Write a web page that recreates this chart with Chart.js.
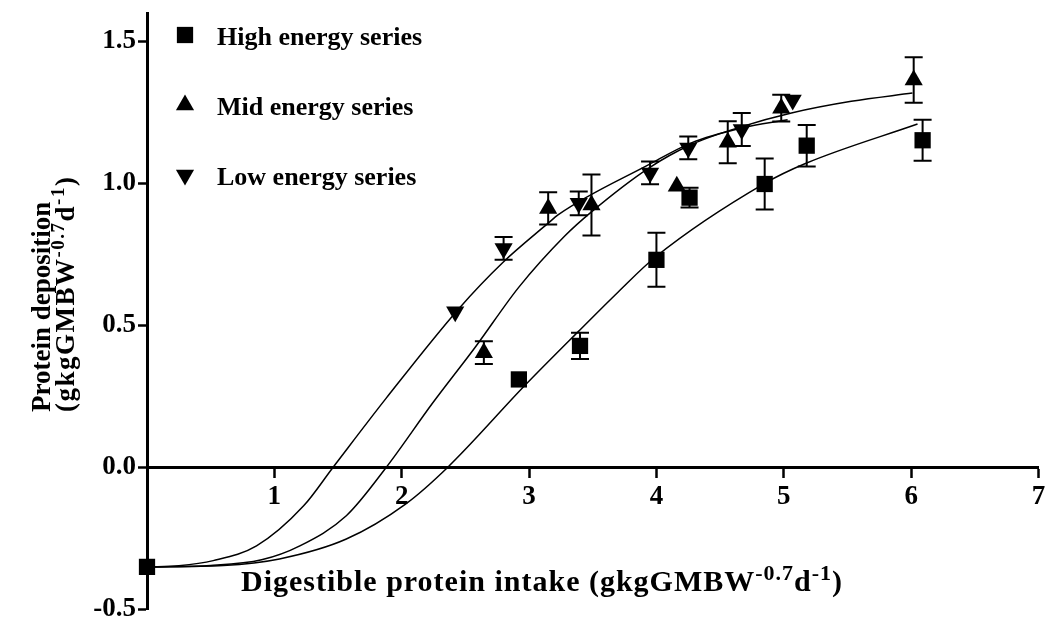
<!DOCTYPE html>
<html>
<head>
<meta charset="utf-8">
<script src="https://cdn.jsdelivr.net/npm/chart.js@4.4.1/dist/chart.umd.min.js"></script>
<style>
  body { margin: 0; background: #fff; }
  canvas { display: block; }
</style>
</head>
<body>
<canvas id="chart" width="1050" height="621"></canvas>
<script>
// 図から読み取った値
const seriesLabels = ['High energy series', 'Mid energy series', 'Low energy series'];

const highX = [0, 2.92, 3.40, 4.00, 4.26, 4.85, 5.18, 6.09];
const highY = [-0.35, 0.31, 0.428, 0.731, 0.95, 0.998, 1.133, 1.152];
const highErr = [0, 0, 0.046, 0.095, 0.035, 0.09, 0.073, 0.072];

const midX = [2.645, 3.15, 3.49, 4.16, 4.56, 4.98, 6.02];
const midY = [0.404, 0.912, 0.924, 0.99, 1.145, 1.265, 1.364];
const midErr = [0.04, 0.057, 0.107, 0, 0.074, 0.047, 0.08];

const lowX = [2.42, 2.80, 3.39, 3.95, 4.25, 4.67, 5.07];
const lowY = [0.548, 0.771, 0.93, 1.037, 1.125, 1.19, 1.294];
const lowErr = [0, 0.04, 0.042, 0.04, 0.04, 0.058, 0];

// フィット曲線（図の線上で読んだ点）
const highCurveX = [0, 0.6, 1.04, 1.565, 2.03, 2.36, 2.97, 3.39, 3.70, 3.99, 4.85, 5.17, 6.05];
const highCurveY = [-0.35, -0.345, -0.322, -0.252, -0.129, 0, 0.29, 0.48, 0.618, 0.74, 1.0, 1.07, 1.209];
const midCurveX = [0, 0.5, 0.9, 1.2, 1.565, 1.878, 2.24, 2.58, 2.92, 3.28, 3.49, 3.94, 4.27, 4.67, 5.06, 5.53, 6.01];
const midCurveY = [-0.35, -0.345, -0.325, -0.276, -0.17, 0, 0.225, 0.425, 0.635, 0.815, 0.9, 1.054, 1.136, 1.20, 1.248, 1.289, 1.318];
const lowCurveX = [0, 0.25, 0.52, 0.86, 1.23, 1.46, 1.88, 2.45, 2.79, 3.15, 3.23, 3.94, 4.27, 4.67, 5.03];
const lowCurveY = [-0.35, -0.346, -0.328, -0.276, -0.135, 0, 0.245, 0.56, 0.72, 0.86, 0.89, 1.066, 1.142, 1.195, 1.224];

const xTicks = [1, 2, 3, 4, 5, 6, 7];
const yTicks = [-0.5, 0, 0.5, 1.0, 1.5];

const FONT = '"Liberation Serif", "Times New Roman", serif';

function toPoints(xs, ys) {
    return xs.map((x, i) => ({ x: x, y: ys[i] }));
}

function markerSet(label, xs, ys, errs, style, rotation) {
    return {
        label: label,
        data: toPoints(xs, ys),
        errors: errs,
        pointStyle: style,
        pointRotation: rotation,
        pointRadius: style === 'rect' ? 11.5 : 10.5,
        pointHoverRadius: style === 'rect' ? 11.5 : 10.5,
        backgroundColor: '#000',
        borderColor: '#000',
        borderWidth: 0,
        showLine: false,
        clip: false,
        order: 0
    };
}

function curveSet(xs, ys) {
    return {
        label: '',
        data: toPoints(xs, ys),
        showLine: true,
        pointRadius: 0,
        borderColor: '#000',
        borderWidth: 1.5,
        cubicInterpolationMode: 'monotone',
        fill: false,
        isCurve: true,
        order: 1
    };
}

// 上付き文字を含むテキストを描く
function drawRich(ctx, parts, x, y, size, spacing) {
    ctx.letterSpacing = (spacing || 0) + 'px';
    let cx = x;
    parts.forEach(p => {
        const s = p.sup ? Math.round(size * 0.72) : size;
        ctx.font = 'bold ' + s + 'px ' + FONT;
        ctx.fillText(p.t, cx, p.sup ? y - size * 0.36 : y);
        cx += ctx.measureText(p.t).width;
    });
    ctx.letterSpacing = '0px';
}

const unitParts = [
    { t: '(gkgGMBW' }, { t: '-0.7', sup: true }, { t: 'd' }, { t: '-1', sup: true }, { t: ')' }
];

const titlesPlugin = {
    id: 'titles',
    afterDraw(chart) {
        const ctx = chart.ctx;
        ctx.save();
        ctx.fillStyle = '#000';
        ctx.textBaseline = 'alphabetic';
        ctx.textAlign = 'left';
        // x軸タイトル
        drawRich(ctx, [{ t: 'Digestible protein intake ' }].concat(unitParts), 241, 591, 30, 1);
        // y軸タイトル（2行、回転）
        ctx.translate(50, 412);
        ctx.rotate(-Math.PI / 2);
        drawRich(ctx, [{ t: 'Protein deposition' }], 0, 0, 27, 0);
        drawRich(ctx, unitParts, 0, 24, 27, 1.5);
        ctx.restore();
    }
};

const legendPlugin = {
    id: 'customLegend',
    afterDraw(chart) {
        const ctx = chart.ctx;
        ctx.save();
        const sets = chart.data.datasets.filter(d => !d.isCurve);
        sets.forEach((ds, i) => {
            const cy = 35 + i * 70;
            ctx.fillStyle = '#000';
            ctx.strokeStyle = '#000';
            Chart.helpers.drawPoint(ctx, {
                pointStyle: ds.pointStyle,
                rotation: ds.pointRotation,
                radius: ds.pointRadius,
                borderWidth: 0
            }, 185, cy);
            ctx.font = 'bold 26px ' + FONT;
            ctx.textBaseline = 'alphabetic';
            ctx.fillText(ds.label, 217, cy + 10);
        });
        ctx.restore();
    }
};

const errorBarPlugin = {
    id: 'errorBars',
    beforeDatasetsDraw(chart) {
        const { ctx, scales: { x, y } } = chart;
        ctx.save();
        ctx.strokeStyle = '#000';
        ctx.lineWidth = 2;
        chart.data.datasets.forEach(ds => {
            if (!ds.errors) return;
            ds.data.forEach((p, i) => {
                const e = ds.errors[i];
                if (!e) return;
                const px = x.getPixelForValue(p.x);
                const top = y.getPixelForValue(p.y + e);
                const bot = y.getPixelForValue(p.y - e);
                ctx.beginPath();
                ctx.moveTo(px, top); ctx.lineTo(px, bot);
                ctx.moveTo(px - 9, top); ctx.lineTo(px + 9, top);
                ctx.moveTo(px - 9, bot); ctx.lineTo(px + 9, bot);
                ctx.stroke();
            });
        });
        ctx.restore();
    }
};

const tickFont = { family: FONT, size: 27, weight: 'bold' };

new Chart(document.getElementById('chart'), {
    type: 'scatter',
    data: {
        datasets: [
            markerSet(seriesLabels[0], highX, highY, highErr, 'rect', 0),
            markerSet(seriesLabels[1], midX, midY, midErr, 'triangle', 0),
            markerSet(seriesLabels[2], lowX, lowY, lowErr, 'triangle', 180),
            curveSet(highCurveX, highCurveY),
            curveSet(midCurveX, midCurveY),
            curveSet(lowCurveX, lowCurveY)
        ]
    },
    options: {
        responsive: false,
        animation: false,
        devicePixelRatio: 1,
        layout: { padding: { left: 0, top: 13, right: 9, bottom: 11 } },
        plugins: {
            legend: { display: false },
            tooltip: { enabled: false }
        },
        scales: {
            x: {
                type: 'linear',
                min: 0,
                max: 7,
                position: { y: 0 },
                afterBuildTicks: (axis) => { axis.ticks = xTicks.map(v => ({ value: v })); },
                afterFit: (s) => { s.paddingLeft = 0; s.paddingRight = 0; },
                ticks: { color: '#000', font: tickFont, padding: 4 },
                grid: { display: true, drawOnChartArea: false, drawTicks: true, tickLength: 9, tickWidth: 2.5, tickColor: '#000' },
                border: { display: true, color: '#000', width: 3 }
            },
            y: {
                type: 'linear',
                min: -0.5,
                max: 1.6,
                afterBuildTicks: (axis) => { axis.ticks = yTicks.map(v => ({ value: v })); },
                afterFit: (s) => { s.width = 147; s.paddingTop = 0; s.paddingBottom = 0; },
                ticks: { color: '#000', font: tickFont, padding: 2, callback: (v) => Number(v).toFixed(1) },
                grid: { display: true, drawOnChartArea: false, drawTicks: true, tickLength: 9, tickWidth: 2.5, tickColor: '#000' },
                border: { display: true, color: '#000', width: 3 }
            }
        }
    },
    plugins: [errorBarPlugin, legendPlugin, titlesPlugin]
});
</script>
</body>
</html>
